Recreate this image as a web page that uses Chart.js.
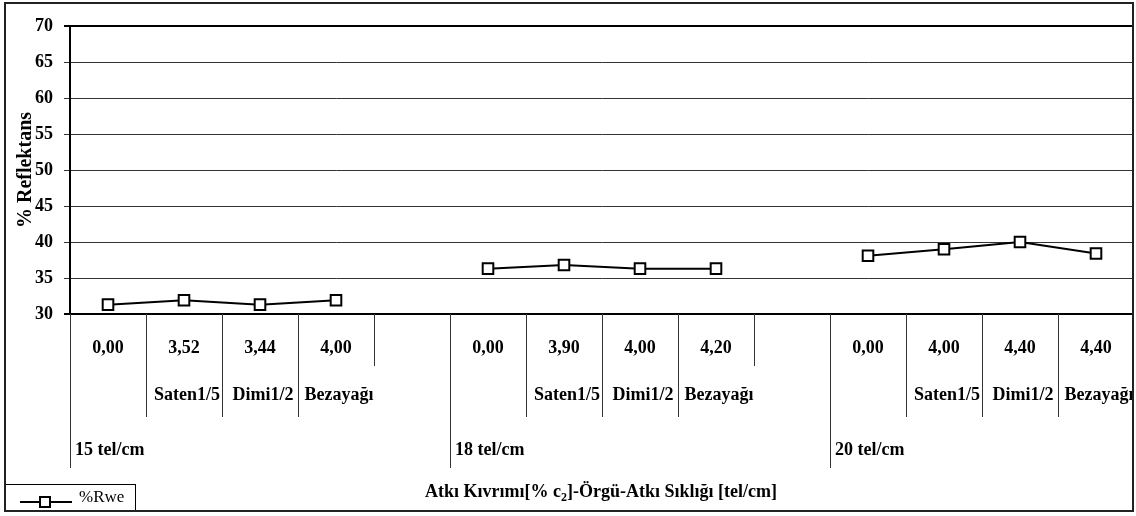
<!DOCTYPE html>
<html>
<head>
<meta charset="utf-8">
<script src="https://cdn.jsdelivr.net/npm/chart.js@4/dist/chart.umd.min.js"></script>
<style>
  html, body { margin: 0; padding: 0; background: #fff; }
  #wrap { width: 1136px; height: 516px; }
</style>
</head>
<body>
<div id="wrap"><canvas id="chart" width="1136" height="516"></canvas></div>
<script>
/* ===== Data ===== */
const CRIMP_LABELS  = ['0,00', '3,52', '3,44', '4,00', '', '0,00', '3,90', '4,00', '4,20', '', '0,00', '4,00', '4,40', '4,40'];
const WEAVE_LABELS  = ['', 'Saten1/5', 'Dimi1/2', 'Bezayağı', '', '', 'Saten1/5', 'Dimi1/2', 'Bezayağı', '', '', 'Saten1/5', 'Dimi1/2', 'Bezayağı'];
const DENSITY_LABELS = ['15 tel/cm', '18 tel/cm', '20 tel/cm'];
const DENSITY_START  = [0, 5, 10];
const RWE_VALUES    = [31.3, 31.9, 31.3, 31.9, null, 36.3, 36.8, 36.3, 36.3, null, 38.1, 39.0, 40.0, 38.4];
const Y_MIN = 30, Y_MAX = 70, Y_STEP = 5;

const SERIF = '"Liberation Serif", "Times New Roman", serif';
const BOLD18 = 'bold 18px ' + SERIF;

/* ===== Multi-level category table + frame (Excel style) ===== */
const tablePlugin = {
  id: 'tablePlugin',
  afterDraw(chart) {
    const { ctx, chartArea: a, scales: { x } } = chart;
    const n = CRIMP_LABELS.length;
    const w = (a.right - a.left) / n;
    const edge = i => a.left + i * w;
    const y1 = a.bottom + 52, y2 = a.bottom + 103, y3 = a.bottom + 154;

    ctx.save();
    // vertical separators
    ctx.strokeStyle = '#333';
    ctx.lineWidth = 1;
    for (let i = 0; i < n; i++) {
      let bottom = y1;
      if (DENSITY_START.includes(i)) bottom = y3;
      else if (WEAVE_LABELS[i] || WEAVE_LABELS[i - 1] && i % 5 !== 4) bottom = y2;
      const px = Math.round(edge(i)) + 0.5;
      ctx.beginPath();
      ctx.moveTo(px, a.bottom);
      ctx.lineTo(px, bottom);
      ctx.stroke();
    }
    // right edge of plot/table
    ctx.strokeStyle = '#000';
    ctx.lineWidth = 2;
    ctx.beginPath();
    ctx.moveTo(a.right - 1, a.top);
    ctx.lineTo(a.right - 1, y3);
    ctx.stroke();

    // labels
    ctx.fillStyle = '#000';
    ctx.font = BOLD18;
    ctx.textBaseline = 'middle';
    ctx.textAlign = 'center';
    ctx.save();
    ctx.beginPath();
    ctx.rect(0, 0, 1133, 516);
    ctx.clip();
    CRIMP_LABELS.forEach((t, i) => ctx.fillText(t, x.getPixelForValue(i), a.bottom + 34));
    WEAVE_LABELS.forEach((t, i) => { if (t) ctx.fillText(t, x.getPixelForValue(i) + 3, a.bottom + 81); });
    ctx.restore();
    ctx.textAlign = 'left';
    DENSITY_LABELS.forEach((t, g) => ctx.fillText(t, edge(DENSITY_START[g]) + 5, a.bottom + 136));

    // x axis title with subscript
    const partA = 'Atkı Kıvrımı[% c', sub = '2', partB = ']-Örgü-Atkı Sıklığı [tel/cm]';
    ctx.font = BOLD18;
    const wa = ctx.measureText(partA).width, wb = ctx.measureText(partB).width;
    ctx.font = 'bold 12px ' + SERIF;
    const ws = ctx.measureText(sub).width;
    let tx = 601 - (wa + ws + wb) / 2;
    const ty = 492;
    ctx.font = BOLD18;
    ctx.fillText(partA, tx, ty);
    ctx.font = 'bold 12px ' + SERIF;
    ctx.fillText(sub, tx + wa, ty + 6);
    ctx.font = BOLD18;
    ctx.fillText(partB, tx + wa + ws, ty);

    // legend box
    const ds = chart.data.datasets[0];
    ctx.strokeStyle = '#000';
    ctx.lineWidth = 1;
    ctx.strokeRect(5.5, 484.5, 130, 27);
    ctx.lineWidth = 2;
    ctx.beginPath();
    ctx.moveTo(20, 502);
    ctx.lineTo(72, 502);
    ctx.stroke();
    ctx.fillStyle = '#fff';
    ctx.fillRect(40, 497, 10, 10);
    ctx.strokeRect(40, 497, 10, 10);
    ctx.fillStyle = '#000';
    ctx.font = '17px ' + SERIF;
    ctx.fillText(ds.label, 79, 498);

    // outer frame
    ctx.strokeStyle = '#222';
    ctx.lineWidth = 2;
    ctx.strokeRect(5, 3, 1128, 508);
    ctx.restore();
  }
};

/* ===== Chart ===== */
new Chart(document.getElementById('chart'), {
  type: 'line',
  data: {
    labels: CRIMP_LABELS.map((c, i) => i),
    datasets: [{
      label: '%Rwe',
      data: RWE_VALUES,
      borderColor: '#000',
      borderWidth: 2,
      pointStyle: 'rect',
      pointRadius: 7.5,
      pointBorderWidth: 2,
      pointBackgroundColor: '#fff',
      pointBorderColor: '#000',
      spanGaps: false,
      tension: 0,
    }],
  },
  options: {
    responsive: false,
    animation: false,
    layout: { autoPadding: false, padding: { left: 0, top: 26, right: 2, bottom: 202 } },
    plugins: { legend: { display: false }, tooltip: { enabled: false } },
    scales: {
      x: {
        type: 'category',
        offset: true,
        display: false,
      },
      y: {
        min: Y_MIN,
        max: Y_MAX,
        afterFit: s => { s.width = 70; },
        ticks: {
          stepSize: Y_STEP,
          color: '#000',
          padding: 11,
          font: { family: SERIF, size: 18, weight: 'bold' },
        },
        grid: {
          color: c => (c.tick && (c.tick.value === Y_MIN || c.tick.value === Y_MAX)) ? '#000' : '#333',
          lineWidth: c => (c.tick && (c.tick.value === Y_MIN || c.tick.value === Y_MAX)) ? 2 : 1,
          tickLength: 6,
        },
        border: { display: true, color: '#000', width: 2 },
        title: {
          display: true,
          text: '% Reflektans',
          color: '#000',
          font: { family: SERIF, size: 20, weight: 'bold' },
          padding: { top: 14, bottom: 0 },
        },
      },
    },
  },
  plugins: [tablePlugin],
});
</script>
</body>
</html>
